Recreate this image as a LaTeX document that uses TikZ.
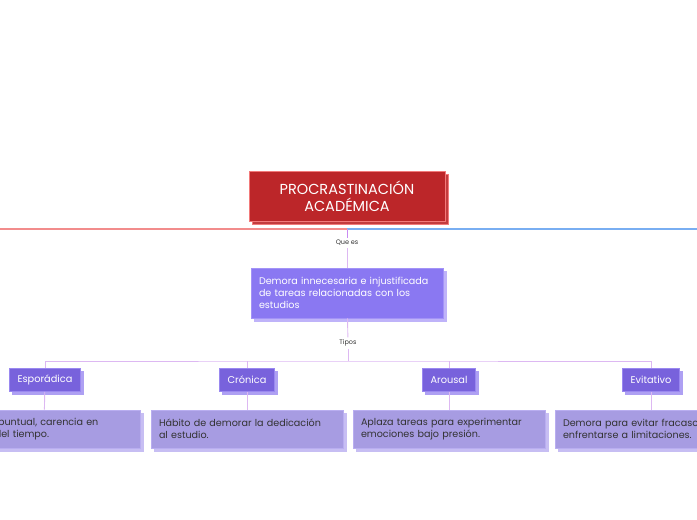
\documentclass[tikz,border=0pt]{standalone}
\usepackage{fontspec}
\setmainfont{Poppins}
\usetikzlibrary{shadows}
\definecolor{titlered}{HTML}{BC2629}
\definecolor{titleedge}{HTML}{F27A7A}
\definecolor{mainlila}{HTML}{8A78F2}
\definecolor{mainedge}{HTML}{A393F7}
\definecolor{typelila}{HTML}{7862DC}
\definecolor{typeedge}{HTML}{9A88F0}
\definecolor{desclila}{HTML}{A79CE2}
\definecolor{descedge}{HTML}{B9AEF0}
\definecolor{linkred}{HTML}{F28C8C}
\definecolor{linkblue}{HTML}{79AEF2}
\definecolor{linklila}{HTML}{DDB8F2}
\definecolor{linkviolet}{HTML}{C98AF2}
\definecolor{txtgray}{HTML}{333333}

\begin{document}
\begin{tikzpicture}[x=1pt,y=-1pt,line width=0.8pt,
	titlebox/.style={rectangle,draw=titleedge,fill=titlered,text=white,align=center,
		minimum width=196pt,minimum height=50pt,inner sep=2pt,
		font=\fontsize{14.5}{17}\selectfont,
		copy shadow={shadow xshift=3pt,shadow yshift=-3pt,fill=titlered!90,draw=titleedge}},
	mainbox/.style={rectangle,draw=mainedge,fill=mainlila,text=white,align=left,
		text width=176pt,minimum height=50pt,inner sep=8pt,
		font=\fontsize{9.6}{12}\selectfont,
		copy shadow={shadow xshift=3pt,shadow yshift=-3pt,fill=mainedge!70,draw=mainedge!70}},
	typebox/.style={rectangle,draw=typeedge,fill=typelila,text=white,
		minimum height=23pt,inner xsep=8pt,
		font=\fontsize{9.8}{11}\selectfont,
		copy shadow={shadow xshift=3pt,shadow yshift=-3pt,fill=typeedge!80,draw=typeedge!80}},
	descbox/.style={rectangle,draw=descedge,fill=desclila,text=txtgray,align=left,
		text width=176pt,minimum height=38pt,inner sep=8pt,
		font=\fontsize{9.6}{12}\selectfont,
		copy shadow={shadow xshift=3pt,shadow yshift=-3pt,fill=descedge!80,draw=descedge!80}},
	tag/.style={fill=white,text=txtgray,inner sep=2pt,font=\fontsize{6.5}{7}\selectfont},
	link/.style={draw=linklila,line width=0.9pt}]
	\useasboundingbox (0,0) rectangle (697,520);
	% central topic
	\node (title) at (347,196) [titlebox] {PROCRASTINACIÓN\\ACADÉMICA};
	\coordinate (hl) at (0,229);
	\coordinate (hub) at (347,229);
	\coordinate (hr) at (697,229);
	\draw [linkred,line width=1.2pt] (hl) -- (hub);
	\draw [linkblue,line width=1.2pt] (hub) -- (hr);
	% definition
	\node (que) at (347,243) [tag] {Que es};
	\node (demora) at (347,293) [mainbox] {Demora innecesaria e injustificada\\de tareas relacionadas con los\\estudios};
	\node (tipos) at (348,343) [tag] {Tipos};
	\draw [linkviolet] (hub) -- (que);
	\draw [link] (que) -- (demora);
	\draw [link] (demora) -- (tipos);
	% types
	\coordinate (bus) at (348,361);
	\node (esp) at (45,380) [typebox] {Esporádica};
	\node (cron) at (247,380) [typebox] {Crónica};
	\node (arou) at (449,380) [typebox] {Arousal};
	\node (evit) at (651,380) [typebox] {Evitativo};
	\draw [link] (tipos) -- (bus);
	\draw [link] (esp.north) |- (bus) -| (evit.north);
	\draw [link] (cron.north) -- (cron.north |- bus);
	\draw [link] (arou.north) -- (arou.north |- bus);
	% descriptions
	\node (espd) at (44,429) [descbox] {Demora puntual, carencia en\\gestión del tiempo.};
	\node (crond) at (247,429) [descbox] {Hábito de demorar la dedicación\\al estudio.};
	\node (aroud) at (449,429) [descbox] {Aplaza tareas para experimentar\\emociones bajo presión.};
	\node (evitd) at (651,429) [descbox] {Demora para evitar fracasos o\\enfrentarse a limitaciones.};
	\draw [link] (esp) -- (espd);
	\draw [link] (cron) -- (crond);
	\draw [link] (arou) -- (aroud);
	\draw [link] (evit) -- (evitd);
\end{tikzpicture}
\end{document}
